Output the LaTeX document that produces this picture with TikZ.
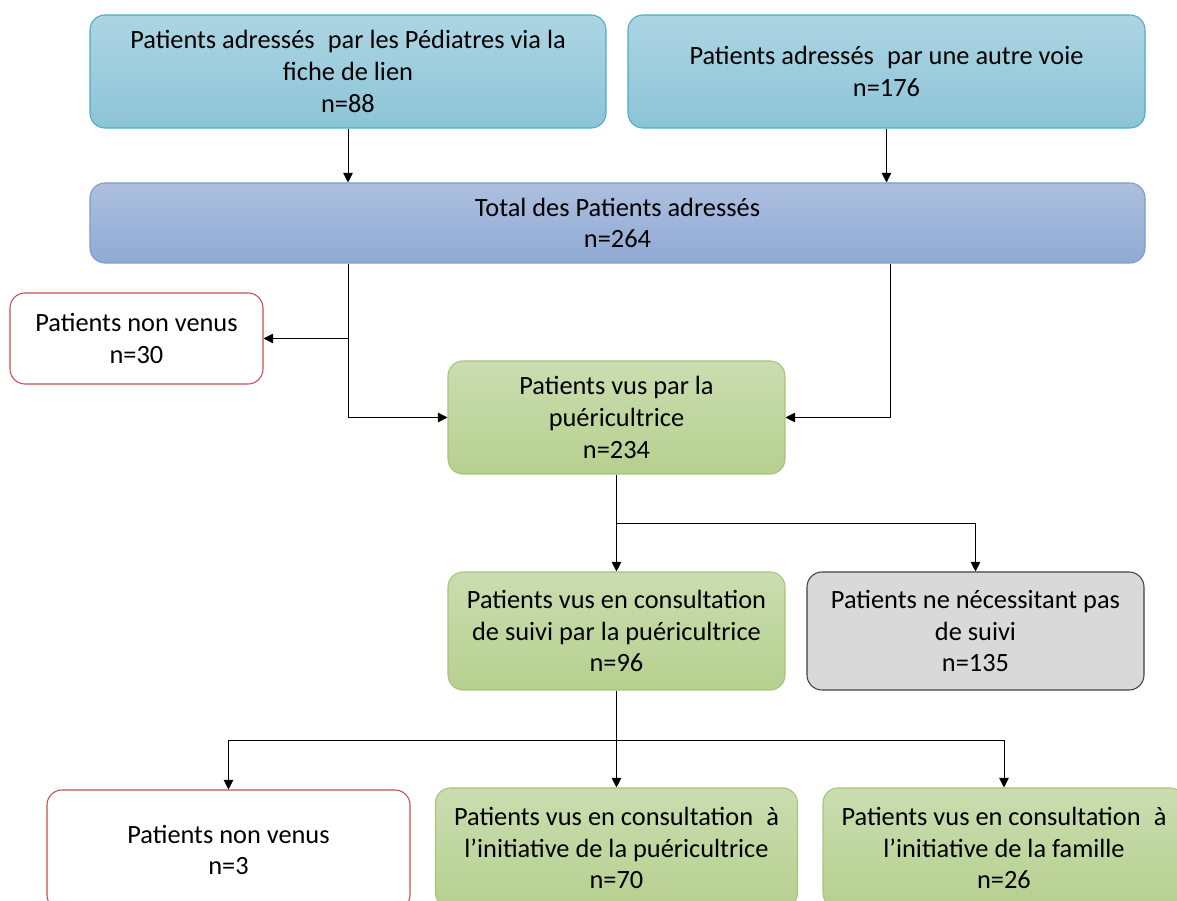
\documentclass[tikz,border=0pt]{standalone}
\usepackage{fontspec}
\setmainfont{Carlito}
\usepackage{tikz}
\usetikzlibrary{arrows.meta,positioning}
\definecolor{bluetop}{HTML}{ADD5E3}
\definecolor{bluebot}{HTML}{8CC4D7}
\definecolor{blueline}{HTML}{4BACC6}
\definecolor{tottop}{HTML}{ADBFDE}
\definecolor{totbot}{HTML}{8FAAD4}
\definecolor{totline}{HTML}{7E9ACB}
\definecolor{greentop}{HTML}{CADDB0}
\definecolor{greenbot}{HTML}{B6D08F}
\definecolor{greenline}{HTML}{A7C47C}
\definecolor{redline}{HTML}{C0504D}
\definecolor{greyfill}{HTML}{D9D9D9}
\definecolor{greyline}{HTML}{404040}
\tikzset{
	box/.style={draw,rectangle,rounded corners=0.3cm,align=center,line width=0.6pt,
		font=\fontsize{15pt}{18pt}\selectfont},
	source/.style={box,draw=blueline,top color=bluetop,bottom color=bluebot},
	total/.style={box,draw=totline,top color=tottop,bottom color=totbot},
	seen/.style={box,draw=greenline,top color=greentop,bottom color=greenbot},
	absent/.style={box,draw=redline,fill=white},
	nofollow/.style={box,draw=greyline,fill=greyfill},
	>={Triangle[length=5.5pt,width=5.5pt]}
}

\begin{document}
\begin{tikzpicture}[line width=0.5pt]
		\useasboundingbox (0,0) rectangle (23.54,-18.02);
		\clip (0,0) rectangle (23.54,-18.02);
		
		\node[source,minimum width=10.32cm,minimum height=2.26cm] (ped) at (6.96,-1.43) {Patients adressés\enspace par les Pédiatres via la\\fiche de lien\\n=88};
		\node[source,minimum width=10.34cm,minimum height=2.26cm] (autre) at (17.73,-1.43) {Patients adressés\enspace par une autre voie\\n=176};
		\node[total,minimum width=21.1cm,minimum height=1.6cm] (tot) at (12.35,-4.46) {Total des Patients adressés\\n=264};
		
		\node[absent,minimum width=5.06cm,minimum height=1.82cm] (nv1) at (2.73,-6.77) {Patients non venus\\n=30};
		\node[seen,minimum width=6.74cm,minimum height=2.26cm] (vus) at (12.33,-8.35) {Patients vus par la\\puéricultrice\\n=234};
		\node[coordinate] (snv) at (6.96,-6.77) {}; % branch to non venus
		
		\node[seen,minimum width=6.74cm,minimum height=2.36cm] (suivi) at (12.33,-12.62) {Patients vus en consultation\\de suivi par la puéricultrice\\n=96};
		\node[nofollow,minimum width=6.74cm,minimum height=2.36cm] (nec) at (19.51,-12.62) {Patients ne nécessitant pas\\de suivi\\n=135};
		\node[coordinate] (snec) at (12.33,-10.46) {}; % branch to no follow-up
		
		\node[absent,minimum width=7.26cm,minimum height=2.4cm] (nv2) at (4.57,-17.0) {Patients non venus\\n=3};
		\node[seen,minimum width=7.24cm,minimum height=2.4cm] (initp) at (12.33,-16.96) {Patients vus en consultation\enspace à\\l’initiative de la puéricultrice\\n=70};
		\node[seen,minimum width=7.24cm,minimum height=2.4cm] (initf) at (20.08,-16.96) {Patients vus en consultation\enspace à\\l’initiative de la famille\\n=26};
		\node[coordinate] (sbas) at (12.33,-14.8) {}; % split under suivi
		
		\draw[->] (ped.south) -- (ped.south |- tot.north);
		\draw[->] (autre.south) -- (autre.south |- tot.north);
		\draw[->] (tot.south -| ped.south) |- (vus.west);
		\draw[->] (snv) -- (nv1.east);
		\draw[->] ([xshift=0.07cm]tot.south -| autre.south) |- (vus.east);
		\draw[->] (vus.south) -- (suivi.north);
		\draw[->] (snec) -| (nec.north);
		\draw[->] (suivi.south) -- (initp.north);
		\draw[->] (sbas) -| (nv2.north);
		\draw[->] (sbas) -| (initf.north);
	\end{tikzpicture}
\end{document}
